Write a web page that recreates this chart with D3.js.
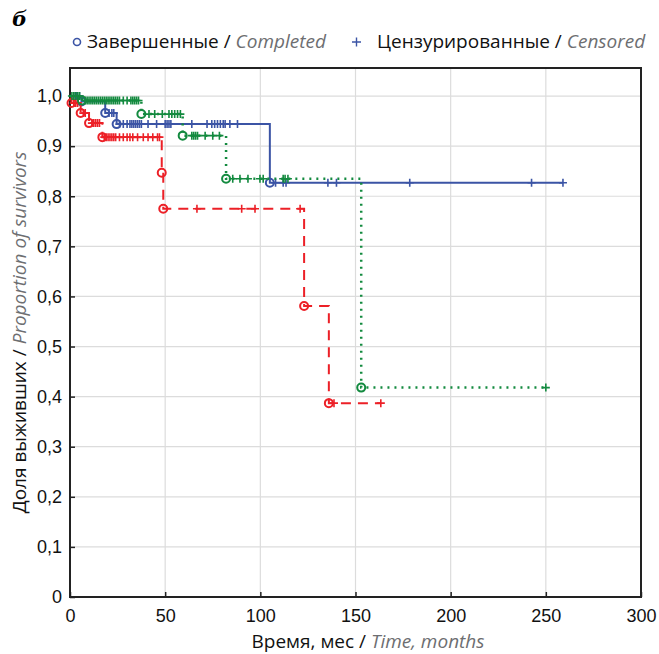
<!DOCTYPE html>
<html>
<head>
<meta charset="utf-8">
<script src="https://cdn.jsdelivr.net/npm/d3@7"></script>
<style>
  body { margin: 0; background: #fff; }
  svg { display: block; font-family: "Open Sans", "Noto Sans", sans-serif; }
</style>
</head>
<body>
<svg width="659" height="654"></svg>
<script>
// --- data ---
const xTicks = [0, 50, 100, 150, 200, 250, 300];
const yTicks = [0, 0.1, 0.2, 0.3, 0.4, 0.5, 0.6, 0.7, 0.8, 0.9, 1.0];

// blue, solid
const blueEventTimes = [6, 18.5, 24.5, 105];
const blueSurvival   = [0.989, 0.966, 0.944, 0.827];
const blueCensored   = [2, 3.5, 5, 20.5, 22, 23, 26, 28, 30, 31.5, 32.5, 33.5, 34.5, 35.5, 36.5, 37.5,
                        41, 45.5, 50, 51, 52, 53, 64, 72, 74.5, 76, 77.5, 79, 80.5, 81.5, 84, 88,
                        108, 112, 113.5, 135.5, 140, 178.5, 242.5, 259];
const blueEnd = 259;

// red, dashed
const redEventTimes = [0.8, 5.6, 10, 17, 48.2, 49, 123, 136];
const redSurvival   = [0.986, 0.966, 0.946, 0.918, 0.847, 0.775, 0.581, 0.387];
const redCensored   = [2, 3, 4, 7, 8, 11.5, 12.5, 13.5, 14.5, 15.5,
                       18, 19, 20, 21, 22, 23, 24, 26, 28, 30, 31.5, 33, 35.5, 38.5, 41, 43.5, 46, 47,
                       66.7, 90.2, 97.2, 120.9, 138.7, 163.3];
const redEnd = 163.3;

// green, dotted
const greenEventTimes = [6.3, 37.5, 59.2, 82, 153];
const greenSurvival   = [0.991, 0.964, 0.921, 0.835, 0.418];
const greenCensored   = [1, 2, 3, 4, 5, 8, 9, 10, 11, 12, 13, 14, 15, 16, 17, 18, 19, 20, 21, 22, 23, 24,
                         25, 26, 28, 30, 32, 33, 34, 35, 36, 41.5, 44.5, 48.5, 52, 53.5, 55, 56.5, 58,
                         64, 65, 66, 67, 71, 75, 78.5, 85.5, 89.3, 93.5, 99.8, 101.5, 112, 113, 114.5, 250];
const greenEnd = 250;

const groups = [
  {events: blueEventTimes, surv: blueSurvival, cens: blueCensored, end: blueEnd, color: "#3b54a5", dash: null, width: 2},
  {events: redEventTimes, surv: redSurvival, cens: redCensored, end: redEnd, color: "#ec2027", dash: "10,7", width: 2},
  {events: greenEventTimes, surv: greenSurvival, cens: greenCensored, end: greenEnd, color: "#138a3f", dash: "2,5", width: 2.5}
];

const svg = d3.select("svg");
const margin = {top: 68, right: 18, bottom: 57, left: 70};
const width = 659, height = 654;
const innerW = width - margin.left - margin.right;
const innerH = height - margin.top - margin.bottom;

const x = d3.scaleLinear().domain([0, 300]).range([margin.left, margin.left + innerW]);
const y = d3.scaleLinear().domain([0, 1.056]).range([margin.top + innerH, margin.top]);

// grid
svg.append("g").selectAll("line.v")
  .data(xTicks.slice(1, -1))
  .enter().append("line")
    .attr("x1", d => x(d)).attr("x2", d => x(d))
    .attr("y1", margin.top).attr("y2", margin.top + innerH)
    .attr("stroke", "#dcdcdc").attr("stroke-width", 1.2);
svg.append("g").selectAll("line.h")
  .data(yTicks.slice(1))
  .enter().append("line")
    .attr("x1", margin.left).attr("x2", margin.left + innerW)
    .attr("y1", d => y(d)).attr("y2", d => y(d))
    .attr("stroke", "#dcdcdc").attr("stroke-width", 1.2);

// axes (ticks inside)
const fmt = d => d === 0 ? "0" : d3.format(".1f")(d).replace(".", ",");
const xAxis = svg.append("g")
  .attr("transform", `translate(0,${margin.top + innerH})`)
  .call(d3.axisBottom(x).tickValues(xTicks).tickSize(-5).tickPadding(12).tickFormat(d3.format("d")));
const yAxis = svg.append("g")
  .attr("transform", `translate(${margin.left},0)`)
  .call(d3.axisLeft(y).tickValues(yTicks).tickSize(-5).tickPadding(8).tickFormat(fmt));
[xAxis, yAxis].forEach(a => {
  a.select(".domain").remove();
  a.selectAll(".tick line").attr("stroke", "#222").attr("stroke-width", 1.5);
  a.selectAll(".tick text").attr("font-size", 18).attr("fill", "#111");
});

// frame
svg.append("rect")
  .attr("x", margin.left).attr("y", margin.top)
  .attr("width", innerW).attr("height", innerH)
  .attr("fill", "none").attr("stroke", "#222").attr("stroke-width", 2);

// survival value at time t
function survAt(g, t) {
  let s = 1;
  g.events.forEach((e, i) => { if (e <= t) s = g.surv[i]; });
  return s;
}

const line = d3.line().x(d => x(d[0])).y(d => y(d[1])).curve(d3.curveStepAfter);

groups.forEach(g => {
  const pts = [[0, 1]].concat(g.events.map((e, i) => [e, g.surv[i]]));
  pts.push([g.end, g.surv[g.surv.length - 1]]);
  svg.append("path")
    .datum(pts)
    .attr("d", line)
    .attr("fill", "none")
    .attr("stroke", g.color)
    .attr("stroke-width", g.width)
    .attr("stroke-dasharray", g.dash);

  svg.append("g").selectAll("path")
    .data(g.cens)
    .enter().append("path")
      .attr("d", d => {
        const cx = x(d), cy = y(survAt(g, d));
        return `M${cx - 4},${cy}h8M${cx},${cy - 4}v8`;
      })
      .attr("stroke", g.color)
      .attr("stroke-width", 1.6)
      .attr("fill", "none");

  svg.append("g").selectAll("circle")
    .data(g.events)
    .enter().append("circle")
      .attr("cx", d => x(d))
      .attr("cy", (d, i) => y(g.surv[i]))
      .attr("r", 4)
      .attr("fill", "none")
      .attr("stroke", g.color)
      .attr("stroke-width", 2);
});

// panel letter
svg.append("text")
  .attr("x", 12).attr("y", 26)
  .attr("font-family", "DejaVu Serif, serif")
  .attr("font-style", "italic").attr("font-weight", "bold")
  .attr("font-size", 21)
  .text("б");

// legend
const legend = svg.append("g").attr("font-size", 19);
legend.append("circle")
  .attr("cx", 77).attr("cy", 42).attr("r", 3.5)
  .attr("fill", "none").attr("stroke", "#3b54a5").attr("stroke-width", 1.6);
const t1 = legend.append("text").attr("x", 87).attr("y", 48);
t1.append("tspan").attr("fill", "#111").text("Завершенные / ");
t1.append("tspan").attr("fill", "#6d6e71").attr("font-style", "italic").text("Completed");
legend.append("path")
  .attr("d", "M352,42h9M356.5,37.5v9")
  .attr("stroke", "#3b54a5").attr("stroke-width", 1.4);
const t2 = legend.append("text").attr("x", 377).attr("y", 48);
t2.append("tspan").attr("fill", "#111").text("Цензурированные / ");
t2.append("tspan").attr("fill", "#6d6e71").attr("font-style", "italic").text("Censored");

// axis titles
const xt = svg.append("text")
  .attr("x", 368).attr("y", 648)
  .attr("text-anchor", "middle").attr("font-size", 19);
xt.append("tspan").attr("fill", "#111").text("Время, мес / ");
xt.append("tspan").attr("fill", "#6d6e71").attr("font-style", "italic").text("Time, months");

const yt = svg.append("text")
  .attr("transform", `translate(26,${margin.top + innerH / 2}) rotate(-90)`)
  .attr("text-anchor", "middle").attr("font-size", 19);
yt.append("tspan").attr("fill", "#111").text("Доля выживших / ");
yt.append("tspan").attr("fill", "#6d6e71").attr("font-style", "italic").text("Proportion of survivors");
</script>
</body>
</html>
